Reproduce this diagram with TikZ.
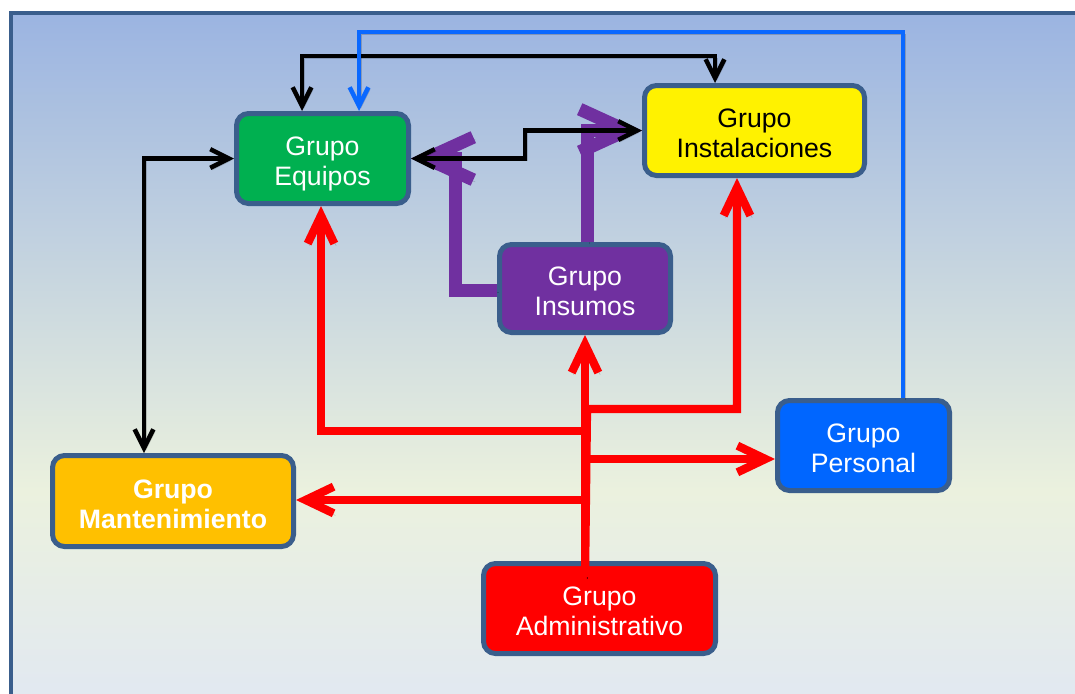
\documentclass[tikz,border=0pt]{standalone}
\usepackage{fontspec}
\setmainfont{Liberation Sans}
\usetikzlibrary{arrows.meta}
\definecolor{framec}{RGB}{58,94,140}
\definecolor{bgtop}{RGB}{155,180,225}
\definecolor{bgmid}{RGB}{235,241,222}
\definecolor{bgbot}{RGB}{225,232,242}
\definecolor{eqgreen}{RGB}{0,176,80}
\definecolor{inspurple}{RGB}{112,48,160}
\definecolor{perblue}{RGB}{0,102,255}
\definecolor{mantorange}{RGB}{255,192,0}
\definecolor{linkblue}{RGB}{10,104,255}
% fixed line metrics so every label sits at the same height in its box
\newcommand{\lnup}{\rule{0pt}{23pt}}
\newcommand{\lndn}{\rule[-4.5pt]{0pt}{4.5pt}}
\begin{document}
\begin{tikzpicture}[x=0.75pt,y=-0.75pt,
  grp/.style={draw=framec, line width=3.75pt, rounded corners=9pt, align=center,
    inner sep=0pt, text=white,
    font=\fontsize{20}{22.5}\selectfont},
  shadowed/.style={preaction={draw=black, opacity=0.18,
    transform canvas={shift={(1.4pt,-1.6pt)}}}},
  blackln/.style={shadowed, draw=black, line width=3.4pt,
    arrows={Straight Barb[length=14pt,width=14pt]-Straight Barb[length=14pt,width=14pt]}},
  blueln/.style={shadowed, draw=linkblue, line width=3.4pt, -{Straight Barb[length=14pt,width=14pt]}},
  purpleln/.style={shadowed, draw=inspurple, line width=9.75pt, -{Straight Barb[length=35pt,width=32pt]}},
  redln/.style={shadowed, draw=red, line width=6.2pt, -{Straight Barb[length=21pt,width=20pt]}}]

% canvas and clipping
\useasboundingbox (0,0) rectangle (1075,693);
\clip (0,0) rectangle (1075,693);

% gradient background inside the frame
\fill[top color=bgtop, bottom color=bgmid] (10.5,12.8) rectangle (1090,490);
\fill[top color=bgmid, bottom color=bgbot] (10.5,490) rectangle (1090,710);
\draw[framec, line width=3pt] (10.5,12.8) rectangle (1090,710);

% groups
\node[grp, fill=eqgreen, minimum width=129pt, minimum height=67.5pt] (eq) at (322.5,158.5) {\lnup Grupo\\Equipos\lndn};
\node[grp, fill=yellow, text=black, minimum width=165pt, minimum height=67.5pt] (ins) at (754.5,130.5) {\lnup Grupo\\Instalaciones\lndn};
\node[grp, fill=inspurple, minimum width=128.25pt, minimum height=66pt] (sum) at (585,288.5) {\lnup Grupo\\Insumos\lndn};
\node[grp, fill=perblue, minimum width=129pt, minimum height=67.5pt] (per) at (863.5,445.5) {\lnup Grupo\\Personal\lndn};
\node[grp, fill=mantorange, font={\fontsize{20}{22.5}\selectfont\bfseries}, minimum width=180.75pt, minimum height=68.25pt] (man) at (173,501) {\lnup Grupo\\Mantenimiento\lndn};
\node[grp, fill=red, minimum width=174pt, minimum height=67.5pt] (adm) at (599.5,608.5) {\lnup Grupo\\Administrativo\lndn};

% supplies group links
\draw[purpleln] (sum.west |- 0,290) -- (455,290) -- (455,158.5) -- (eq.east);
\draw[purpleln] (587,0 |- sum.north) -- (587,130.5) -- (ins.west);

% two-way links
\draw[blackln] (302,0 |- eq.north) -- (302,56) -- (715,56) -- (715,0 |- ins.north);
\draw[blackln] (eq.west) -- (144,158.5) -- (144,0 |- man.north);
\draw[blackln] (eq.east) -- (525,158.5) -- (525,130.5) -- (ins.west);

% personnel to equipment
\draw[blueln] (903,0 |- per.north) -- (903,32) -- (359,32) -- (359,0 |- eq.north);

% administration links
\coordinate (trunk) at (585,577);
\draw[redln] (trunk) -- (585,431) -- (321,431) -- (321,0 |- eq.south);
\draw[redln] (trunk) -- (587,409) -- (737,409) -- (737,0 |- ins.south);
\draw[redln] (trunk) -- (585,459) -- (per.west |- 0,459);
\draw[redln] (trunk) -- (585,500) -- (man.east |- 0,500);
\draw[redln] (trunk) -- (sum.south);
\end{tikzpicture}
\end{document}
